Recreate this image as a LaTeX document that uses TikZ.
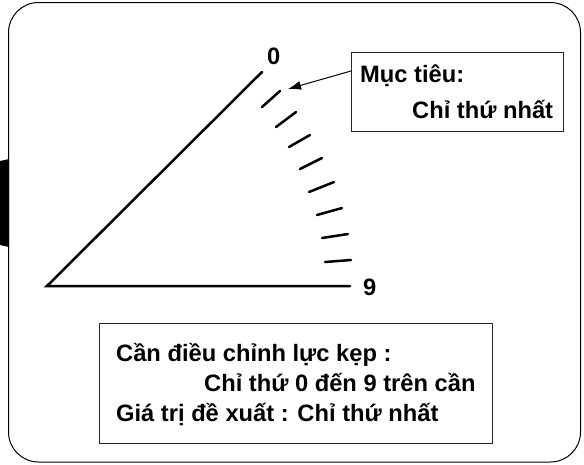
\documentclass[tikz,border=0pt]{standalone}
\usepackage{fontspec}
\usetikzlibrary{arrows.meta}
\setmainfont{Liberation Sans}
\begin{document}
\begin{tikzpicture}[x=1pt,y=-1pt,
  lbl/.style={font=\fontsize{23.7}{28}\selectfont\bfseries,inner sep=0pt,anchor=base west},
  thick line/.style={line width=2.5pt,line cap=round},
  tickmark/.style={line width=2.5pt,line cap=round},
  frame/.style={draw=black!85,line width=1pt,fill=white}]
\useasboundingbox (0,0) rectangle (584,464);
\fill[black] (0,161) -- (9,159) -- (9,247) -- (0,245) -- cycle;
\draw[line width=1pt,rounded corners=30pt] (8.5,2.5) rectangle (580.5,462);
\coordinate (apex) at (47,286);
\coordinate (top) at (262,72);
\coordinate (baseend) at (350,286);
\draw[thick line] (top) -- (apex) -- (baseend);
\foreach \a/\b/\c/\d in {262/107/280/91,276/127/296/112,289/147/310/135,300/169/322/158,309/192/334/182,317/215/342/208,322/238/348/234,325/262/351/260}
  \draw[tickmark] (\a,\b) -- (\c,\d);
\node[lbl] (zero) at (267,64) {0};
\node[lbl] (nine) at (363,295) {9};
\node[frame,minimum width=212pt,minimum height=79pt,anchor=north west,inner sep=0pt] (target) at (351,52) {};
\node[lbl] (t1) at (360,82) {Mục tiêu:};
\node[lbl] (t2) at (412,118) {Chỉ thứ nhất};
\coordinate (tip) at (288,89);
\draw[line width=1pt,-{Latex[length=13pt,width=9pt]}] (target.west |- 0,71) -- (tip);
\node[frame,minimum width=393pt,minimum height=120pt,anchor=north west,inner sep=0pt] (info) at (99,323) {};
\node[lbl] (b1) at (116,361.5) {Cần điều chỉnh lực kẹp :};
\node[lbl] (b2) at (204,391.5) {Chỉ thứ 0 đến 9 trên cần};
\node[lbl] (b3) at (116,421) {Giá trị đề xuất : Chỉ thứ nhất};
\end{tikzpicture}
\end{document}
